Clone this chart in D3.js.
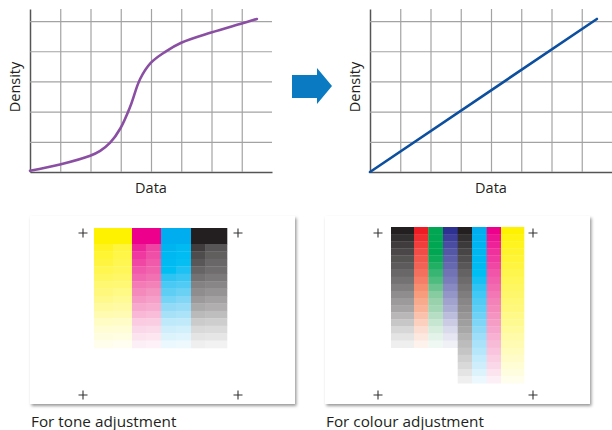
<!DOCTYPE html>
<html>
<head>
<meta charset="utf-8">
<script src="https://cdn.jsdelivr.net/npm/d3@7"></script>
<style>
body { margin: 0; background: #fff; }
text { font-family: "Open Sans", "Noto Sans", sans-serif; fill: #231f20; }
</style>
</head>
<body>
<svg id="chart" width="612" height="430"></svg>
<script>
// ---- data: density charts (grid units) ----
var gridX = [1, 2, 3, 4, 5, 6, 7];
var gridY = [1, 2, 3, 4, 5];
var beforeX = [0, 0.99, 1.99, 2.32, 2.65, 2.99, 3.31, 3.64, 4.0, 4.47, 5.0, 5.99, 7.0, 7.5];
var beforeY = [0.04, 0.25, 0.54, 0.70, 0.97, 1.45, 2.16, 3.08, 3.62, 3.98, 4.28, 4.62, 4.92, 5.07];
var afterX = [0, 7.5];
var afterY = [0, 5.07];
var xLabel = "Data";
var yLabel = "Density";

// ---- data: test patches (tint %) ----
var toneInks = ["Y", "M", "C", "K"];
var toneTintsLeft = [87, 80, 75, 69, 63, 56, 51, 45, 38, 31, 23, 17, 12, 7];
var toneTintsRight = [76, 72, 68, 65, 60, 54, 48, 42, 36, 29, 22, 16, 11, 6];
var colourInks = ["K", "R", "G", "B", "K", "C", "M", "Y"];
var colourTintsShort = [100, 93, 87, 82, 77, 73, 68, 63, 57, 51, 45, 40, 32, 25, 18, 12, 7];
var colourTintsLong = [100, 93, 88, 83, 79, 75, 70, 66, 62, 58, 54, 51, 47, 43, 39, 34, 30, 26, 21, 17, 12, 7];
var captions = ["For tone adjustment", "For colour adjustment"];

// ink colour ramps (white -> full ink)
var inkScale = {
    K: d3.scaleLinear().domain([0, 1]).range(["#ffffff", "#231f20"]),
    C: d3.scaleLinear().domain([0, 0.38, 0.63, 0.69, 1]).range(["#ffffff", "#93daf7", "#2dc3f3", "#00bdf2", "#00aeef"]),
    M: d3.scaleLinear().domain([0, 0.5, 1]).range(["#ffffff", "#f48dbd", "#ec008c"]),
    Y: d3.scaleLinear().domain([0, 1]).range(["#ffffff", "#fff200"]),
    R: d3.scaleLinear().domain([0, 0.5, 1]).range(["#ffffff", "#f7a07f", "#ed1c24"]),
    G: d3.scaleLinear().domain([0, 0.5, 0.8, 1]).range(["#ffffff", "#8ccca3", "#00a651", "#00a651"]),
    B: d3.scaleLinear().domain([0, 1]).range(["#ffffff", "#2e3192"])
}

var svg = d3.select("#chart")

var defs = svg.append("defs")
var shadow = defs.append("filter").attr("id", "shadow")
    .attr("x", "-5%").attr("y", "-5%").attr("width", "112%").attr("height", "115%")
shadow.append("feDropShadow")
    .attr("dx", 1.5).attr("dy", 2).attr("stdDeviation", 1.8)
    .attr("flood-color", "#000").attr("flood-opacity", 0.4)

// ############################################
// density charts
function draw_density(ox, lx, ly, color, labelX) {
    var xScale = d3.scaleLinear().domain([0, 8]).range([ox, ox + 242])
    var yScale = d3.scaleLinear().domain([0, 5.4]).range([172, 9])
    var g = svg.append("g")

    g.append("g")
        .attr("transform", "translate(0,172)")
        .call(d3.axisBottom(xScale).tickValues(gridX).tickSize(-163).tickSizeOuter(0).tickFormat(""))
        .call(function(a) {
            a.selectAll(".tick line").attr("stroke", "#a3a3a3").attr("stroke-width", 1.2)
            a.select(".domain").attr("stroke", "#555").attr("stroke-width", 1.5)
        })

    g.append("g")
        .attr("transform", "translate(" + ox + ",0)")
        .call(d3.axisLeft(yScale).tickValues(gridY).tickSize(-242).tickSizeOuter(0).tickFormat(""))
        .call(function(a) {
            a.selectAll(".tick line").attr("stroke", "#a3a3a3").attr("stroke-width", 1.2)
            a.select(".domain").attr("stroke", "#555").attr("stroke-width", 1.5)
        })

    var pts = lx.map(function(d, i) { return [d, ly[i]] })
    g.append("path")
        .attr("d", d3.line()
            .x(function(d) { return xScale(d[0]) })
            .y(function(d) { return yScale(d[1]) })
            .curve(d3.curveCatmullRom.alpha(0.5))(pts))
        .attr("fill", "none")
        .attr("stroke", color)
        .attr("stroke-width", 2.6)
        .attr("stroke-linecap", "round")

    g.append("text")
        .attr("x", xScale(4)).attr("y", 193)
        .attr("text-anchor", "middle")
        .style("font-size", "14.5px")
        .text(xLabel)

    g.append("text")
        .attr("transform", "translate(" + labelX + ",87) rotate(-90)")
        .attr("text-anchor", "middle")
        .style("font-size", "14.5px")
        .text(yLabel)
}

draw_density(30, beforeX, beforeY, "#8a4fa3", 19.5)
draw_density(370, afterX, afterY, "#0d4f9f", 359.5)

// arrow
svg.append("path")
    .attr("d", "M292,75 L317,75 L317,68 L332,86 L317,104 L317,98 L292,98 Z")
    .attr("fill", "#0a7bc2")

// ############################################
// panels
var panelX = [30, 325]
panelX.forEach(function(px, i) {
    svg.append("rect")
        .attr("x", px).attr("y", 216)
        .attr("width", 265).attr("height", 188)
        .attr("fill", "#fff")
        .attr("filter", "url(#shadow)")

    var cx = [px + 53, px + 208], cy = [233, 395]
    cx.forEach(function(x) {
        cy.forEach(function(y) {
            svg.append("path")
                .attr("d", "M" + (x - 4.5) + "," + y + "H" + (x + 4.5) + "M" + x + "," + (y - 4.5) + "V" + (y + 4.5))
                .attr("stroke", "#333").attr("stroke-width", 1.1)
        })
    })

    svg.append("text")
        .attr("x", px + 1).attr("y", 427)
        .style("font-size", "15.3px")
        .text(captions[i])
})

// tone patch: solid top row, then two tint half-columns per ink
var toneWidths = [38, 29, 30, 36]
var toneSplit = [0.5, 0.48, 0.5, 0.39]
var toneEdges = [94]
toneWidths.forEach(function(w, i) { toneEdges.push(toneEdges[i] + w) })
var toneRow = d3.scaleBand().domain(d3.range(toneTintsLeft.length)).range([244, 348])
var tone = svg.append("g")

toneInks.forEach(function(ink, i) {
    var x0 = toneEdges[i], w = toneWidths[i], wl = w * toneSplit[i]
    tone.append("rect")
        .attr("x", x0).attr("y", 228)
        .attr("width", w + 0.3).attr("height", 16.3)
        .attr("fill", inkScale[ink](1))
    tone.selectAll(null)
        .data(toneTintsLeft)
        .enter().append("rect")
        .attr("x", x0)
        .attr("y", function(d, r) { return toneRow(r) })
        .attr("width", wl + 0.3)
        .attr("height", toneRow.bandwidth() + 0.3)
        .attr("fill", function(d) { return inkScale[ink](d / 100) })
    tone.selectAll(null)
        .data(toneTintsRight)
        .enter().append("rect")
        .attr("x", x0 + wl)
        .attr("y", function(d, r) { return toneRow(r) })
        .attr("width", w - wl + 0.3)
        .attr("height", toneRow.bandwidth() + 0.3)
        .attr("fill", function(d) { return inkScale[ink](d / 100) })
})

// colour patch: eight ink columns, first four short
var colourWidths = [23, 14.3, 14.7, 14.7, 14.3, 14.7, 14.3, 23]
var colourEdges = [391]
colourWidths.forEach(function(w, i) { colourEdges.push(colourEdges[i] + w) })
var rowH = 7.1
var colour = svg.append("g")

colourInks.forEach(function(ink, i) {
    var tints = i < 4 ? colourTintsShort : colourTintsLong
    colour.selectAll(null)
        .data(tints)
        .enter().append("rect")
        .attr("x", colourEdges[i])
        .attr("y", function(d, r) { return 227 + r * rowH })
        .attr("width", colourWidths[i] + 0.3)
        .attr("height", rowH + 0.3)
        .attr("fill", function(d) { return inkScale[ink](d / 100) })
})
</script>
</body>
</html>
